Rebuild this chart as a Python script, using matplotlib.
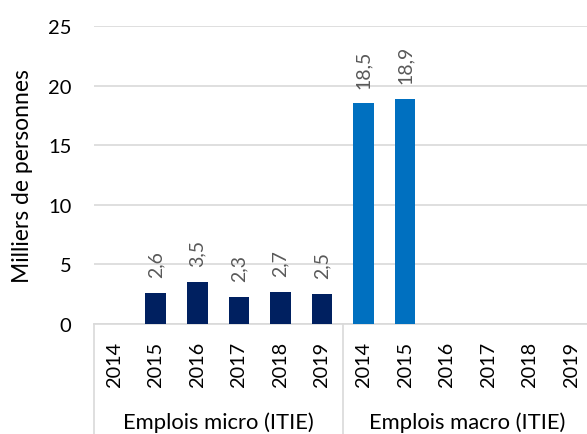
import matplotlib
matplotlib.use("Agg")
import matplotlib.pyplot as plt
import numpy as np
from matplotlib.lines import Line2D

years = ["2014", "2015", "2016", "2017", "2018", "2019"]
groups = ["Emplois micro (ITIE)", "Emplois macro (ITIE)"]
micro = [np.nan, 2.6, 3.5, 2.3, 2.7, 2.5]
macro = [18.5, 18.9, np.nan, np.nan, np.nan, np.nan]
colors = ["#002060", "#0070C0"]
ylabel = "Milliers de personnes"

plt.rcParams['font.family'] = ['Lato', 'DejaVu Sans']

W, H = 587, 435
fig = plt.figure(figsize=(W / 100, H / 100), dpi=100)
left, right, bottom, top = 93.5, 592, 325, 27
ax = fig.add_axes([left / W, (H - bottom) / H, (right - left) / W, (bottom - top) / H])

n = len(years)
x_micro = np.arange(n)
x_macro = np.arange(n) + n
ax.bar(x_micro, micro, width=0.5, color=colors[0], zorder=3)
ax.bar(x_macro, macro, width=0.5, color=colors[1], zorder=3)

for xs, vals in ((x_micro, micro), (x_macro, macro)):
    for xv, v in zip(xs, vals):
        if not np.isnan(v):
            ax.annotate(f"{v:.1f}".replace(".", ","), (xv, v), xytext=(0, 11.5),
                        textcoords="offset points", rotation=90, ha="center",
                        va="bottom", fontsize=14, color="#595959")

ax.set_xlim(-0.5, 2 * n - 0.5)
ax.set_ylim(0, 25)
ax.set_yticks([0, 5, 10, 15, 20, 25])
ax.tick_params(axis="y", length=0, pad=16, labelsize=14.5, labelcolor="#000000")
ax.set_xticks(np.arange(2 * n))
ax.set_xticklabels(years + years, rotation=90, fontsize=14.3)
ax.tick_params(axis="x", length=0, pad=12)
ax.grid(axis="y", color="#d9d9d9", linewidth=1.2, zorder=0)
for s in ["top", "right", "left"]:
    ax.spines[s].set_visible(False)
ax.spines["bottom"].set_color("#d9d9d9")
ax.spines["bottom"].set_linewidth(1.2)

fig.text(23 / W, (H - 176) / H, ylabel, rotation=90, ha="center", va="center",
         fontsize=16.5)

trans = ax.get_xaxis_transform()
depth = -(H - bottom + 10) / (bottom - top)
for xv in (-0.5, n - 0.5):
    ax.add_line(Line2D([xv, xv], [0, depth], transform=trans, color="#d9d9d9",
                       linewidth=1.2, clip_on=False))
label_y = -(423 - bottom) / (bottom - top)
for i, g in enumerate(groups):
    ax.text(i * n + (n - 1) / 2, label_y, g, transform=trans, ha="center",
            va="center", fontsize=15.8)

fig.savefig("out.png", dpi=100)
